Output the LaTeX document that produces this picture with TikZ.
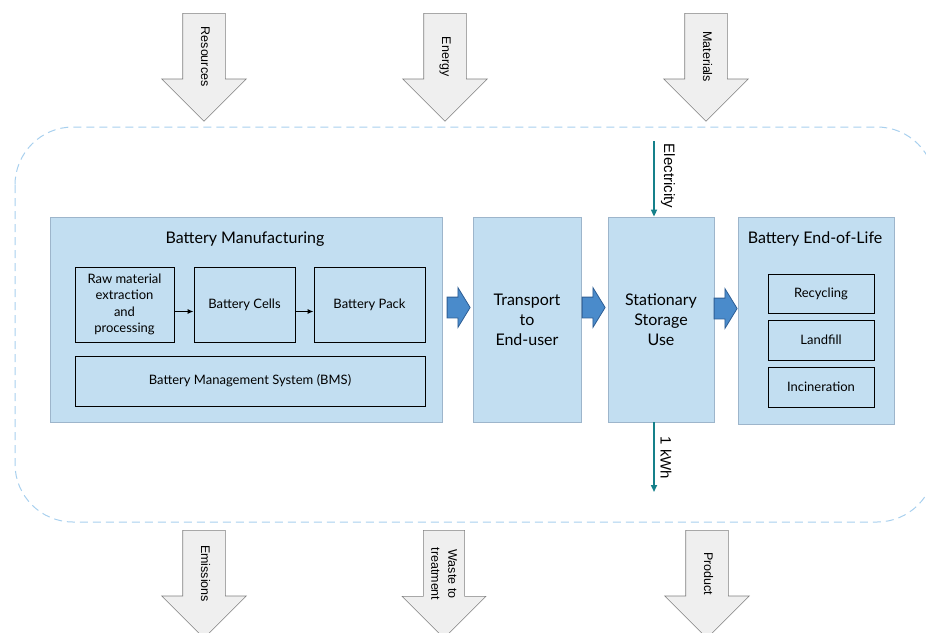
\documentclass[tikz,border=0pt]{standalone}
\usepackage{fontspec}
\setmainfont{Lato}
\newfontfamily\arialfont{Liberation Sans}
\usepackage{tikz}
\usetikzlibrary{arrows.meta,positioning,shapes.arrows,calc}

\definecolor{stagefill}{RGB}{194,222,241}
\definecolor{stageline}{RGB}{157,181,203}
\definecolor{bounddash}{RGB}{168,208,238}
\definecolor{flowfill}{RGB}{74,139,203}
\definecolor{flowline}{RGB}{46,94,148}
\definecolor{electeal}{RGB}{21,128,138}
\definecolor{ioflow}{RGB}{239,239,239}

\begin{document}
\begin{tikzpicture}[
    x=1pt, y=-1pt,
    stage/.style={draw=stageline, fill=stagefill, line width=0.8pt, inner sep=0pt},
    sub/.style={draw=black, fill=stagefill, line width=1pt, align=center, inner sep=0pt,
        font=\fontsize{13}{16.5}\selectfont},
    title/.style={font=\fontsize{16}{19}\selectfont},
    bigtxt/.style={align=center, font=\fontsize{16}{20}\selectfont},
    flow/.style={single arrow, draw=flowline, fill=flowfill, line width=0.8pt,
        inner xsep=0pt, inner ysep=10pt, anchor=tip, single arrow tip angle=117,
        minimum height=23pt, minimum width=39pt, single arrow head extend=9.5pt},
    io/.style={single arrow, draw=black!50, fill=ioflow, line width=0.6pt,
        inner xsep=2pt, inner ysep=15pt, text height=9pt, text depth=3pt,
        minimum height=108pt, minimum width=84pt, single arrow head extend=21pt,
        rotate=-90, anchor=tail, align=center, font=\arialfont\fontsize{12.5}{17}\selectfont},
    arr/.style={-{Latex[length=6pt,width=5pt]}, line width=1pt},
    elec/.style={-{Triangle[length=7pt,width=6pt]}, line width=1.6pt, draw=electeal},
    elbl/.style={rotate=-90, font=\arialfont\fontsize{15}{17}\selectfont},
    boundary/.style={draw=bounddash, dash pattern=on 8pt off 5pt, line width=1pt, rounded corners=58pt},
]
\useasboundingbox (0,0) rectangle (926,632);

% System boundary
\draw[boundary] (15,127) rectangle (935,522);

% Life cycle stages
\node[stage, minimum width=392pt, minimum height=205pt] (manuf) at (246,319.5) {};
\node[stage, minimum width=108pt, minimum height=205pt, bigtxt] (trans) at (527,319.5) {Transport\\to\\End-user};
\node[stage, minimum width=106pt, minimum height=205pt, bigtxt] (store) at (661,319.5) {Stationary\\Storage\\Use};
\node[stage, minimum width=156pt, minimum height=207pt] (eol) at (816,320.5) {};

% Stage titles
\node[title] at (245,239) {Battery Manufacturing};
\node[title] at (815,239) {Battery End-of-Life};

% Manufacturing steps
\node[sub, minimum width=99pt, minimum height=75pt] (raw) at (124.5,304.5) {Raw material\\extraction\\and\\processing};
\node[sub, minimum width=101pt, minimum height=75pt] (cells) at (244.5,304.5) {Battery Cells};
\node[sub, minimum width=111pt, minimum height=75pt] (pack) at (369.5,304.5) {Battery Pack};
\node[sub, minimum width=350pt, minimum height=50pt] (bms) at (250,381) {Battery Management System (BMS)};

% End-of-life options
\node[sub, minimum width=106pt, minimum height=39pt] (recyc) at (821,293.5) {Recycling};
\node[sub, minimum width=106pt, minimum height=40pt] (land) at (821,340) {Landfill};
\node[sub, minimum width=106pt, minimum height=40pt] (incin) at (821,387) {Incineration};

% Arrows inside manufacturing
\draw[arr] ([yshift=-7pt]raw.east) -- ([yshift=-7pt]cells.west);
\draw[arr] ([yshift=-7pt]cells.east) -- ([yshift=-7pt]pack.west);

% Flow between stages
\node[flow] (f1) at ($(trans.west)+(-2,-12)$) {};
\node[flow] (f2) at ($(store.west)+(-2,-12)$) {};
\node[flow] (f3) at ($(eol.west)+(0,-12)$) {};

% Electricity in, functional unit out
\coordinate (elin) at (654,141);
\coordinate (kwh) at (654,492);
\draw[elec] (elin) -- (elin |- store.north);
\draw[elec] (elin |- store.south) -- (kwh);
\node[elbl] at (668,176) {Electricity};
\node[elbl] at (666,458) {1 kWh};

% Inputs
\node[io] (res) at (204,13) {Resources};
\node[io] (energy) at (445,13) {Energy};
\node[io] (mat) at (706,13) {Materials};

% Outputs
\node[io] (emis) at (204,530) {Emissions};
\node[io, inner ysep=7pt, text height=, text depth=] (waste) at (444,530) {Waste to\\treatment};
\node[io] (prod) at (707,530) {Product};
\end{tikzpicture}
\end{document}
